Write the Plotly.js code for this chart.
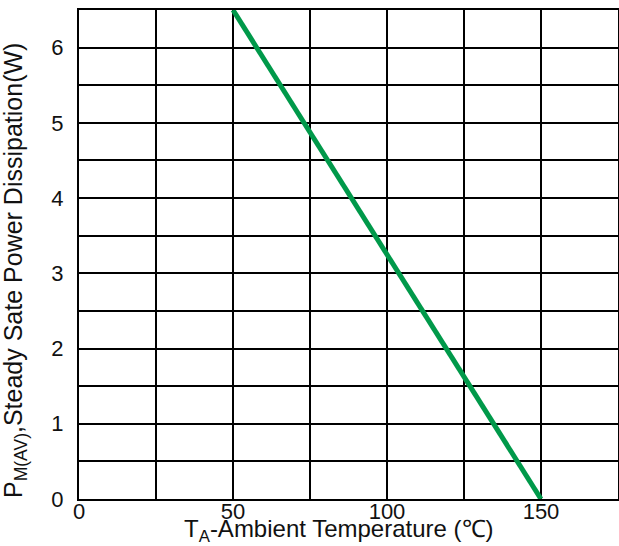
<!DOCTYPE html>
<html>
<head>
<meta charset="utf-8">
<script src="https://cdn.plot.ly/plotly-3.0.1.min.js"></script>
<style>html,body{margin:0;padding:0;background:#fff;}#chart{width:619px;height:546px;}</style>
</head>
<body>
<div id="chart"></div>
<script>
var temperature = [50, 150];
var power = [6.5, 0];
var xTickVals = [0, 50, 100, 150];
var xTickText = ['0', '50', '100', '150'];
var yTickVals = [0, 1, 2, 3, 4, 5, 6];
var yTickText = ['0', '1', '2', '3', '4', '5', '6'];
var xTitle = 'T<sub>A</sub>-Ambient Temperature (℃)';
var yTitle = 'P<sub>M(AV)</sub>,Steady Sate Power Dissipation(W)';

var font = 'Liberation Sans, Arial, sans-serif';
var trace = {
  x: temperature, y: power, mode: 'lines', type: 'scatter',
  line: {color: '#00994a', width: 5}, hoverinfo: 'skip'
};
var layout = {
  width: 619, height: 546,
  margin: {l: 79, r: 1, t: 10, b: 47},
  paper_bgcolor: '#fff', plot_bgcolor: '#fff',
  showlegend: false,
  font: {family: font, color: '#000', size: 21},
  xaxis: {
    range: [0, 175], tickvals: xTickVals, ticktext: xTickText,
    showgrid: true, gridcolor: '#000', gridwidth: 2,
    minor: {dtick: 25, showgrid: true, gridcolor: '#000', gridwidth: 2},
    showline: true, linecolor: '#000', linewidth: 2, mirror: true,
    zeroline: false, ticks: '', ticklabelstandoff: -8,
    tickfont: {size: 22, family: font, color: '#111'},
    fixedrange: true
  },
  yaxis: {
    range: [0, 6.5], tickvals: yTickVals, ticktext: yTickText,
    showgrid: true, gridcolor: '#000', gridwidth: 2,
    minor: {dtick: 0.5, showgrid: true, gridcolor: '#000', gridwidth: 2},
    showline: true, linecolor: '#000', linewidth: 2, mirror: true,
    zeroline: false, ticks: '', ticklabelstandoff: 9,
    tickfont: {size: 22, family: font, color: '#111'},
    fixedrange: true
  },
  annotations: [
    {text: xTitle, xref: 'paper', yref: 'paper', x: 0.483, y: -0.064,
     xanchor: 'center', yanchor: 'middle', showarrow: false,
     font: {size: 24, family: font, color: '#111'}},
    {text: yTitle, xref: 'paper', yref: 'paper', x: -0.119, y: 0.468,
     xanchor: 'center', yanchor: 'middle', showarrow: false, textangle: -90,
     font: {size: 25, family: font, color: '#111'}}
  ]
};
Plotly.newPlot('chart', [trace], layout, {staticPlot: true, displayModeBar: false});
</script>
</body>
</html>
